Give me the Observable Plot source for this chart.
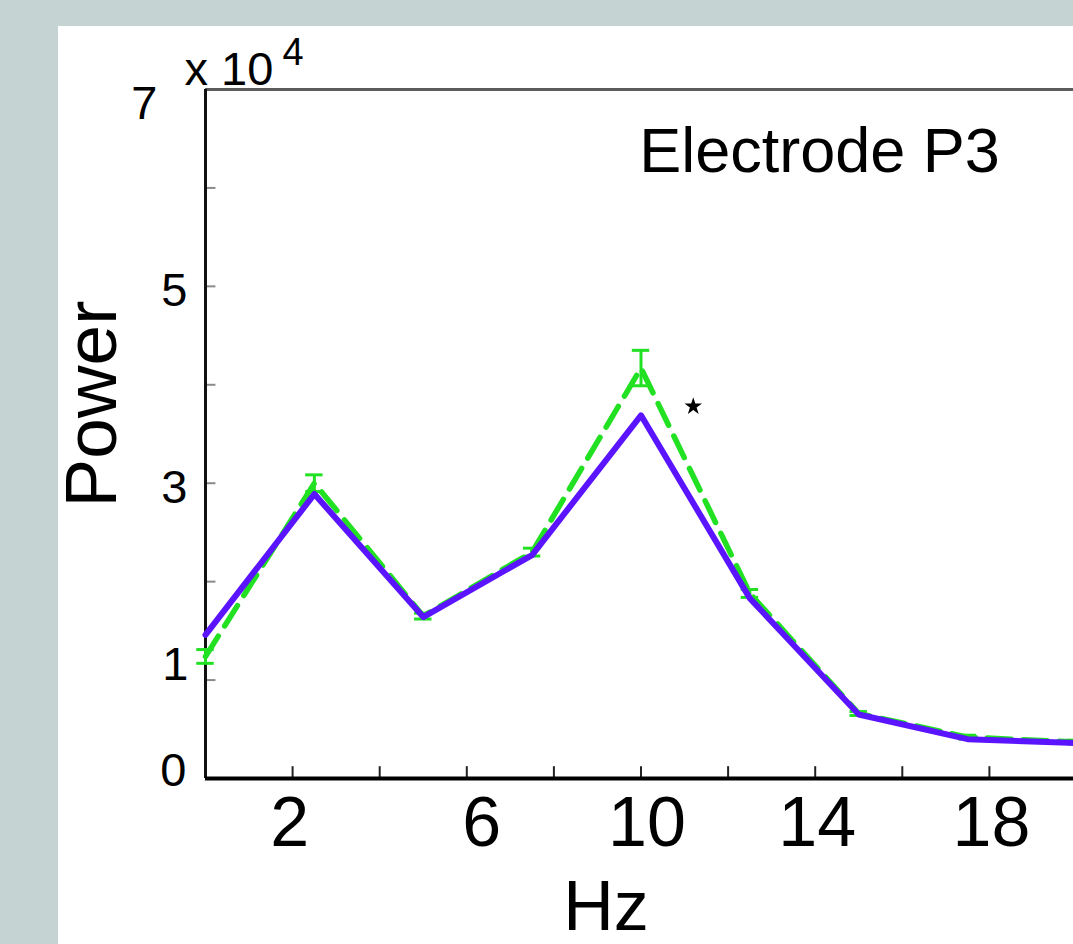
<!DOCTYPE html>
<html>
<head>
<meta charset="utf-8">
<script src="https://cdn.jsdelivr.net/npm/d3@7"></script>
<script src="https://cdn.jsdelivr.net/npm/@observablehq/plot@0.6"></script>
<style>
  html, body { margin: 0; padding: 0; width: 1073px; height: 944px; overflow: hidden; background: #c5d3d3; }
  #panel { position: absolute; left: 58px; top: 26px; width: 1015px; height: 918px; background: #ffffff; }
  #chart { position: absolute; left: 0; top: 0; width: 1090px; height: 944px; }
  #chart svg { max-width: none !important; }
</style>
</head>
<body>
<div id="panel"></div>
<div id="chart"></div>
<script>
// Frequency bins (Hz)
const hz = [0, 2.5, 5, 7.5, 10, 12.5, 15, 17.5, 20];
// Power (x 10^4), blue solid series
const powerBlue = [1.46, 2.89, 1.64, 2.27, 3.69, 1.83, 0.65, 0.40, 0.36];
// Power (x 10^4), green dashed series
const powerGreen = [1.24, 3.00, 1.65, 2.30, 4.17, 1.88, 0.66, 0.42, 0.37];
// Error (x 10^4), green series
const errGreen = [0.07, 0.085, 0.03, 0.04, 0.18, 0.04, 0.02, 0.02, 0.02];

// Ticks and labels
const xTicks = [2, 4, 6, 8, 10, 12, 14, 16, 18];
const xLabelsA = [2];
const xLabelsB = [6];
const xLabelsC = [10];
const xLabelsD = [14, 18];
const yTicks = [1, 2, 3, 4, 5, 6];
const yLabelsMain = [3, 5];
const yLabelOne = [1];
const yLabelZero = [0];
const yLabelTop = [7];

// Annotations
const panelTitle = [{hz: 14.1, power: 6.16, label: "Electrode P3"}];
const significance = [{hz: 11.2, power: 3.78}];
const xAxisLabel = "Hz";
const yAxisLabel = "Power";
const yExponentBase = "x 10";
const yExponent = "4";

const blue = "#5a14ff";
const green = "#22e022";
const font = "'Liberation Sans', Arial, Helvetica, sans-serif";

const rows = hz.map((h, i) => ({hz: h, blue: powerBlue[i], green: powerGreen[i], err: errGreen[i]}));

const chart = Plot.plot({
  width: 1090,
  height: 944,
  marginLeft: 205,
  marginRight: 14,
  marginTop: 89,
  marginBottom: 166,
  style: {background: "transparent", fontFamily: font, color: "#000", overflow: "visible"},
  x: {domain: [0, 20], axis: null},
  y: {domain: [0, 7], axis: null},
  marks: [
    // inward ticks
    Plot.ruleY(yTicks, {y: d => d, x1: 0, x2: 0.24, stroke: "#8a8a8a", strokeWidth: 2}),
    Plot.ruleX(xTicks, {x: d => d, y1: 0, y2: 0.12, stroke: "#222", strokeWidth: 2}),
    // box lines
    Plot.ruleY([7], {stroke: "#5c5c5c", strokeWidth: 3}),
    Plot.ruleX([0], {stroke: "#111", strokeWidth: 3}),
    Plot.ruleY([0], {stroke: "#000", strokeWidth: 4}),
    // green error bars
    Plot.ruleX(rows, {x: "hz", y1: d => d.green - d.err, y2: d => d.green + d.err, stroke: green, strokeWidth: 3}),
    Plot.ruleY(rows, {y: d => d.green + d.err, x1: d => d.hz - 0.2, x2: d => d.hz + 0.2, stroke: green, strokeWidth: 3}),
    Plot.ruleY(rows, {y: d => d.green - d.err, x1: d => d.hz - 0.2, x2: d => d.hz + 0.2, stroke: green, strokeWidth: 3}),
    // lines
    Plot.line(rows, {x: "hz", y: "green", stroke: green, strokeWidth: 5.5, strokeDasharray: "24,12"}),
    Plot.line(rows, {x: "hz", y: "blue", stroke: blue, strokeWidth: 6}),
    // significance star
    Plot.dot(significance, {x: "hz", y: "power", symbol: "star", r: 5.5, fill: "#000", stroke: "none"}),
    // panel title
    Plot.text(panelTitle, {x: "hz", y: "power", text: "label", fontSize: 63, lineAnchor: "bottom", fill: "#000"}),
    // y tick labels
    Plot.text(yLabelsMain, {y: d => d, text: d => String(d), frameAnchor: "left", textAnchor: "end", dx: -18, dy: 5, fontSize: 47}),
    Plot.text(yLabelOne, {y: d => d, text: d => String(d), frameAnchor: "left", textAnchor: "end", dx: -17, dy: -15, fontSize: 47}),
    Plot.text(yLabelZero, {y: d => d, text: d => String(d), frameAnchor: "left", textAnchor: "end", dx: -19, dy: -8, fontSize: 47}),
    Plot.text(yLabelTop, {y: d => d, text: d => String(d), frameAnchor: "left", textAnchor: "end", dx: -48, dy: 14, fontSize: 47}),
    // x tick labels
    Plot.text(xLabelsA, {x: d => d, text: d => String(d), frameAnchor: "bottom", lineAnchor: "bottom", dx: -3, dy: 67, fontSize: 70}),
    Plot.text(xLabelsB, {x: d => d, text: d => String(d), frameAnchor: "bottom", lineAnchor: "bottom", dx: 15, dy: 67, fontSize: 70}),
    Plot.text(xLabelsC, {x: d => d, text: d => String(d), frameAnchor: "bottom", lineAnchor: "bottom", dx: 6, dy: 67, fontSize: 70}),
    Plot.text(xLabelsD, {x: d => d, text: d => String(d), frameAnchor: "bottom", lineAnchor: "bottom", dx: 2, dy: 67, fontSize: 70}),
    // axis labels
    Plot.text([xAxisLabel], {text: d => d, frameAnchor: "bottom", textAnchor: "middle", lineAnchor: "bottom", dx: -35, dy: 151, fontSize: 70}),
    Plot.text([yAxisLabel], {text: d => d, frameAnchor: "left", textAnchor: "middle", rotate: -90, dx: -113, dy: -30, fontSize: 73}),
    // exponent
    Plot.text([yExponentBase], {text: d => d, frameAnchor: "top-left", textAnchor: "start", lineAnchor: "bottom", dx: -21, dy: -5, fontSize: 47}),
    Plot.text([yExponent], {text: d => d, frameAnchor: "top-left", textAnchor: "start", lineAnchor: "bottom", dx: 77, dy: -25, fontSize: 38})
  ]
});

document.getElementById("chart").appendChild(chart);
</script>
</body>
</html>
